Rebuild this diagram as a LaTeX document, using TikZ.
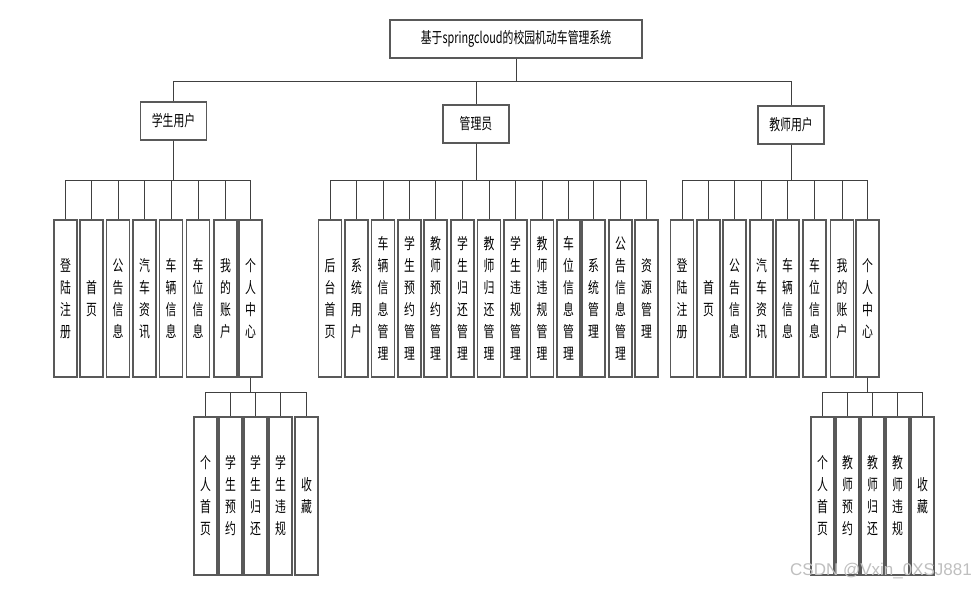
\documentclass[tikz,border=0pt]{standalone}
\usepackage{fontspec}
\newfontfamily\cjkfont[FakeStretch=0.7]{Noto Sans CJK SC}
\newfontfamily\markfont{Liberation Sans}

\begin{document}
\begin{tikzpicture}[x=1pt, y=-1pt,
            box/.style={draw=black!65, line width=1.1pt, fill=white, inner sep=0pt,
                        align=center, font=\cjkfont\fontsize{15.5}{22}\selectfont},
            head/.style={box, minimum width=66pt, minimum height=38pt},
            leaf/.style={box, minimum width=23pt, minimum height=157pt},
            link/.style={draw=black!75, line width=0.8pt}
        ]
        \useasboundingbox (0,0) rectangle (980,589);

        % Root and the three user groups
        \node[box, minimum width=252pt, minimum height=38pt] (root) at (516,39) {基于springcloud的校园机动车管理系统};
        \node[head] (stu) at (173.5,121) {学生用户};
        \node[head] (adm) at (476,124) {管理员};
        \node[head] (tea) at (791,125) {教师用户};
        \draw[link] (root.south) -- ++(0,23) -| (stu.north);
        \draw[link] (root.south) -- ++(0,23) -| (adm.north);
        \draw[link] (root.south) -- ++(0,23) -| (tea.north);

        % Student functions
        \node[leaf] (s1) at (65.5,298.5) {登\\陆\\注\\册};
        \node[leaf] (s2) at (91.5,298.5) {首\\页};
        \node[leaf] (s3) at (118,298.5) {公\\告\\信\\息};
        \node[leaf] (s4) at (144.5,298.5) {汽\\车\\资\\讯};
        \node[leaf] (s5) at (171,298.5) {车\\辆\\信\\息};
        \node[leaf] (s6) at (198,298.5) {车\\位\\信\\息};
        \node[leaf] (s7) at (225.5,298.5) {我\\的\\账\\户};
        \node[leaf] (s8) at (250.5,298.5) {个\\人\\中\\心};
        \draw[link] (stu.south) -- ++(0,40) -| (s1.north);
        \draw[link] (stu.south) -- ++(0,40) -| (s2.north);
        \draw[link] (stu.south) -- ++(0,40) -| (s3.north);
        \draw[link] (stu.south) -- ++(0,40) -| (s4.north);
        \draw[link] (stu.south) -- ++(0,40) -| (s5.north);
        \draw[link] (stu.south) -- ++(0,40) -| (s6.north);
        \draw[link] (stu.south) -- ++(0,40) -| (s7.north);
        \draw[link] (stu.south) -- ++(0,40) -| (s8.north);

        % Student personal centre
        \node[leaf, minimum height=158pt] (p1) at (205.5,496) {个\\人\\首\\页};
        \node[leaf, minimum height=158pt] (p2) at (230.5,496) {学\\生\\预\\约};
        \node[leaf, minimum height=158pt] (p3) at (255.5,496) {学\\生\\归\\还};
        \node[leaf, minimum height=158pt] (p4) at (280.5,496) {学\\生\\违\\规};
        \node[leaf, minimum height=158pt] (p5) at (306.5,496) {收\\藏};
        \draw[link] (s8.south) -- ++(0,15) -| (p1.north);
        \draw[link] (s8.south) -- ++(0,15) -| (p2.north);
        \draw[link] (s8.south) -- ++(0,15) -| (p3.north);
        \draw[link] (s8.south) -- ++(0,15) -| (p4.north);
        \draw[link] (s8.south) -- ++(0,15) -| (p5.north);

        % Administrator functions
        \node[leaf] (a1) at (330,298.5) {后\\台\\首\\页};
        \node[leaf] (a2) at (356.5,298.5) {系\\统\\用\\户};
        \node[leaf] (a3) at (383,298.5) {车\\辆\\信\\息\\管\\理};
        \node[leaf] (a4) at (409.5,298.5) {学\\生\\预\\约\\管\\理};
        \node[leaf] (a5) at (435.5,298.5) {教\\师\\预\\约\\管\\理};
        \node[leaf] (a6) at (462.5,298.5) {学\\生\\归\\还\\管\\理};
        \node[leaf] (a7) at (489,298.5) {教\\师\\归\\还\\管\\理};
        \node[leaf] (a8) at (515.5,298.5) {学\\生\\违\\规\\管\\理};
        \node[leaf] (a9) at (542,298.5) {教\\师\\违\\规\\管\\理};
        \node[leaf] (a10) at (568.5,298.5) {车\\位\\信\\息\\管\\理};
        \node[leaf] (a11) at (593.5,298.5) {系\\统\\管\\理};
        \node[leaf] (a12) at (620.5,298.5) {公\\告\\信\\息\\管\\理};
        \node[leaf] (a13) at (646.5,298.5) {资\\源\\管\\理};
        \draw[link] (adm.south) -- ++(0,37) -| (a1.north);
        \draw[link] (adm.south) -- ++(0,37) -| (a2.north);
        \draw[link] (adm.south) -- ++(0,37) -| (a3.north);
        \draw[link] (adm.south) -- ++(0,37) -| (a4.north);
        \draw[link] (adm.south) -- ++(0,37) -| (a5.north);
        \draw[link] (adm.south) -- ++(0,37) -| (a6.north);
        \draw[link] (adm.south) -- ++(0,37) -| (a7.north);
        \draw[link] (adm.south) -- ++(0,37) -| (a8.north);
        \draw[link] (adm.south) -- ++(0,37) -| (a9.north);
        \draw[link] (adm.south) -- ++(0,37) -| (a10.north);
        \draw[link] (adm.south) -- ++(0,37) -| (a11.north);
        \draw[link] (adm.south) -- ++(0,37) -| (a12.north);
        \draw[link] (adm.south) -- ++(0,37) -| (a13.north);

        % Teacher functions
        \node[leaf] (t1) at (682,298.5) {登\\陆\\注\\册};
        \node[leaf] (t2) at (708.5,298.5) {首\\页};
        \node[leaf] (t3) at (734.5,298.5) {公\\告\\信\\息};
        \node[leaf] (t4) at (761.5,298.5) {汽\\车\\资\\讯};
        \node[leaf] (t5) at (787.5,298.5) {车\\辆\\信\\息};
        \node[leaf] (t6) at (814.5,298.5) {车\\位\\信\\息};
        \node[leaf] (t7) at (842,298.5) {我\\的\\账\\户};
        \node[leaf] (t8) at (867.5,298.5) {个\\人\\中\\心};
        \draw[link] (tea.south) -- ++(0,36) -| (t1.north);
        \draw[link] (tea.south) -- ++(0,36) -| (t2.north);
        \draw[link] (tea.south) -- ++(0,36) -| (t3.north);
        \draw[link] (tea.south) -- ++(0,36) -| (t4.north);
        \draw[link] (tea.south) -- ++(0,36) -| (t5.north);
        \draw[link] (tea.south) -- ++(0,36) -| (t6.north);
        \draw[link] (tea.south) -- ++(0,36) -| (t7.north);
        \draw[link] (tea.south) -- ++(0,36) -| (t8.north);

        % Teacher personal centre
        \node[leaf, minimum height=158pt] (q1) at (822.5,496) {个\\人\\首\\页};
        \node[leaf, minimum height=158pt] (q2) at (847.5,496) {教\\师\\预\\约};
        \node[leaf, minimum height=158pt] (q3) at (872.5,496) {教\\师\\归\\还};
        \node[leaf, minimum height=158pt] (q4) at (897.5,496) {教\\师\\违\\规};
        \node[leaf, minimum height=158pt] (q5) at (922.5,496) {收\\藏};
        \draw[link] (t8.south) -- ++(0,15) -| (q1.north);
        \draw[link] (t8.south) -- ++(0,15) -| (q2.north);
        \draw[link] (t8.south) -- ++(0,15) -| (q3.north);
        \draw[link] (t8.south) -- ++(0,15) -| (q4.north);
        \draw[link] (t8.south) -- ++(0,15) -| (q5.north);

        % Watermark
        \node[font=\markfont\fontsize{17}{17}\selectfont, text=black!25] (mark) at (881,571) {CSDN @Vxin\_0XSJ881};
        \end{tikzpicture}
\end{document}
